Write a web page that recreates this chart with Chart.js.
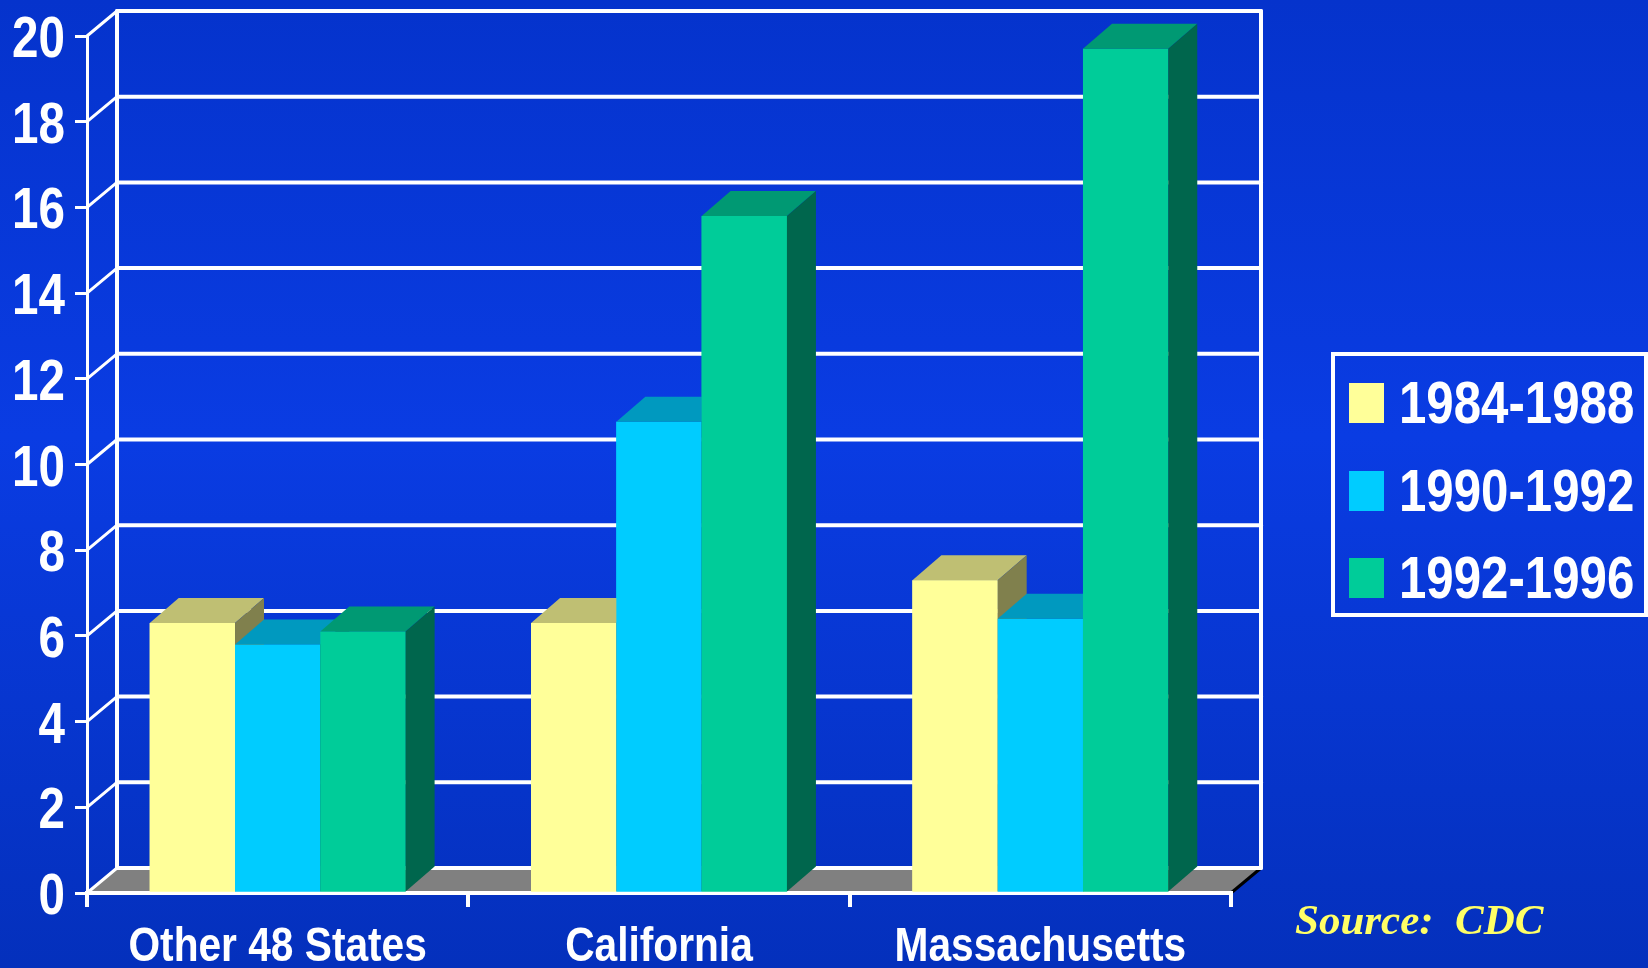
<!DOCTYPE html>
<html>
<head>
<meta charset="utf-8">
<script src="https://cdn.jsdelivr.net/npm/chart.js@4.4.0/dist/chart.umd.min.js"></script>
<style>
html,body{margin:0;padding:0;background:#0636d6;overflow:hidden}
#wrap{width:1648px;height:968px;position:relative}
canvas{display:block}
</style>
</head>
<body>
<div id="wrap"><canvas id="c" width="1648" height="968"></canvas></div>
<script>
// ---- data ----
const categories = ['Other 48 States', 'California', 'Massachusetts'];
const seriesLabels = ['1984-1988', '1990-1992', '1992-1996'];
const values1984_1988 = [6.3, 6.3, 7.3];
const values1990_1992 = [5.8, 11.0, 6.4];
const values1992_1996 = [6.1, 15.8, 19.7];
const yTickValues = [0, 2, 4, 6, 8, 10, 12, 14, 16, 18, 20];
const sourceText = 'Source:  CDC';

// ---- styles ----
const frontColors = ['#FFFF99', '#00CCFF', '#00CC99'];
const topColors   = ['#BFBF73', '#0099BF', '#009973'];
const sideColors  = ['#80804D', '#006680', '#00664D'];
const SANS = '"Liberation Sans", Arial, sans-serif';
const NARROW_SCALE = 0.82;   // the original uses a narrow bold face

const WALL_DX = 30, WALL_DY = -25;   // depth offset of the back wall
const BAR_DX = 29, BAR_DY = -25;     // depth of each bar

const seriesValues = [values1984_1988, values1990_1992, values1992_1996];

function narrowText(ctx, text, x, y, align, sx) {
  ctx.save();
  ctx.translate(x, y);
  ctx.scale(sx, 1);
  ctx.textAlign = align;
  ctx.textBaseline = 'alphabetic';
  ctx.fillText(text, 0, 0);
  ctx.restore();
}

const threeD = {
  id: 'threeD',
  beforeDraw(chart) {
    const ctx = chart.ctx;
    const W = chart.width, H = chart.height;
    const g = ctx.createLinearGradient(0, 0, 0, H);
    g.addColorStop(0, '#0533cc');
    g.addColorStop(0.45, '#0a3ce3');
    g.addColorStop(1, '#0430bc');
    ctx.save();
    ctx.fillStyle = g;
    ctx.fillRect(0, 0, W, H);

    const xs = chart.scales.x, ys = chart.scales.y;
    const L = xs.left, R = xs.right;
    const B = ys.getPixelForValue(0);
    // floor
    ctx.fillStyle = '#808080';
    ctx.beginPath();
    ctx.moveTo(L, B);
    ctx.lineTo(R, B);
    ctx.lineTo(R + WALL_DX, B + WALL_DY);
    ctx.lineTo(L + WALL_DX, B + WALL_DY);
    ctx.closePath();
    ctx.fill();
    ctx.strokeStyle = '#000000';
    ctx.lineWidth = 3;
    ctx.beginPath();
    ctx.moveTo(R, B);
    ctx.lineTo(R + WALL_DX, B + WALL_DY);
    ctx.stroke();

    // back wall grid lines and diagonals
    ctx.strokeStyle = '#ffffff';
    ctx.lineCap = 'round';
    yTickValues.forEach(v => {
      const yF = ys.getPixelForValue(v);
      const yB = yF + WALL_DY;
      ctx.lineWidth = 3;
      ctx.beginPath();
      ctx.moveTo(L, yF);
      ctx.lineTo(L + WALL_DX, yB);
      ctx.stroke();
      ctx.lineWidth = 4;
      ctx.beginPath();
      ctx.moveTo(L + WALL_DX, yB);
      ctx.lineTo(R + WALL_DX, yB);
      ctx.stroke();
    });
    const yTop = ys.getPixelForValue(yTickValues[yTickValues.length - 1]) + WALL_DY;
    const yBot = B + WALL_DY;
    ctx.lineWidth = 4;
    ctx.beginPath();
    ctx.moveTo(L + WALL_DX, yTop);
    ctx.lineTo(L + WALL_DX, yBot);
    ctx.moveTo(R + WALL_DX, yTop);
    ctx.lineTo(R + WALL_DX, yBot);
    ctx.stroke();
    ctx.restore();
  },
  afterDatasetsDraw(chart) {
    const ctx = chart.ctx;
    const n = chart.data.labels.length;
    ctx.save();
    for (let i = 0; i < n; i++) {
      for (let d = 0; d < chart.data.datasets.length; d++) {
        const meta = chart.getDatasetMeta(d);
        const el = meta.data[i];
        if (!el) continue;
        el.draw(ctx);
        const p = el.getProps(['x', 'y', 'base', 'width'], true);
        const l = p.x - p.width / 2, r = p.x + p.width / 2;
        const top = Math.min(p.y, p.base), base = Math.max(p.y, p.base);
        ctx.fillStyle = topColors[d];
        ctx.beginPath();
        ctx.moveTo(l, top);
        ctx.lineTo(r, top);
        ctx.lineTo(r + BAR_DX, top + BAR_DY);
        ctx.lineTo(l + BAR_DX, top + BAR_DY);
        ctx.closePath();
        ctx.fill();
        ctx.fillStyle = sideColors[d];
        ctx.beginPath();
        ctx.moveTo(r, top);
        ctx.lineTo(r, base);
        ctx.lineTo(r + BAR_DX, base + BAR_DY);
        ctx.lineTo(r + BAR_DX, top + BAR_DY);
        ctx.closePath();
        ctx.fill();
      }
    }
    ctx.restore();
  },
  afterDraw(chart) {
    const ctx = chart.ctx;
    const xs = chart.scales.x, ys = chart.scales.y;
    ctx.save();
    ctx.fillStyle = '#ffffff';
    // y tick labels (narrow bold)
    ctx.font = 'bold 58px ' + SANS;
    yTickValues.forEach(v => {
      narrowText(ctx, String(v), ys.right - 22, ys.getPixelForValue(v) + 21, 'right', NARROW_SCALE);
    });
    // category labels
    ctx.font = 'bold 49px ' + SANS;
    chart.data.labels.forEach((lab, i) => {
      narrowText(ctx, lab, xs.getPixelForValue(i), 961, 'center', 0.83);
    });
    // legend box
    ctx.strokeStyle = '#ffffff';
    ctx.lineWidth = 4;
    ctx.strokeRect(1333, 354, 313, 261);
    const baselines = [423, 511, 598];
    ctx.font = 'bold 60px ' + SANS;
    chart.data.datasets.forEach((ds, i) => {
      ctx.fillStyle = ds.backgroundColor;
      ctx.fillRect(1349, baselines[i] - 40, 35, 40);
      ctx.fillStyle = '#ffffff';
      narrowText(ctx, ds.label, 1399, baselines[i], 'left', NARROW_SCALE);
    });
    // source
    ctx.font = 'italic bold 43px "Liberation Serif", "Times New Roman", serif';
    ctx.fillStyle = '#FFFF66';
    ctx.textAlign = 'left';
    ctx.textBaseline = 'alphabetic';
    ctx.fillText(sourceText, 1295, 934);
    ctx.restore();
  }
};

new Chart(document.getElementById('c'), {
  type: 'bar',
  data: {
    labels: categories,
    datasets: seriesLabels.map((lab, i) => ({
      label: lab,
      data: seriesValues[i],
      backgroundColor: frontColors[i],
      borderWidth: 0,
      barPercentage: 1.0,
      categoryPercentage: 0.671
    }))
  },
  options: {
    responsive: false,
    animation: false,
    devicePixelRatio: 1,
    layout: { padding: { left: 0, top: 36, right: 417, bottom: 0 } },
    plugins: { legend: { display: false }, tooltip: { enabled: false } },
    scales: {
      x: {
        afterFit(s) { s.height = 75; },
        grid: { display: true, drawOnChartArea: false, drawTicks: true, tickLength: 14, color: '#ffffff', lineWidth: 4, offset: true },
        border: { display: true, color: '#ffffff', width: 4 },
        ticks: { display: false }
      },
      y: {
        min: 0, max: 20,
        afterFit(s) { s.width = 87; },
        afterBuildTicks(s) { s.ticks = yTickValues.map(v => ({ value: v })); },
        grid: { display: true, drawOnChartArea: false, drawTicks: true, tickLength: 12, color: '#ffffff', lineWidth: 3 },
        border: { display: true, color: '#ffffff', width: 3 },
        ticks: { display: false }
      }
    }
  },
  plugins: [threeD]
});
</script>
</body>
</html>
